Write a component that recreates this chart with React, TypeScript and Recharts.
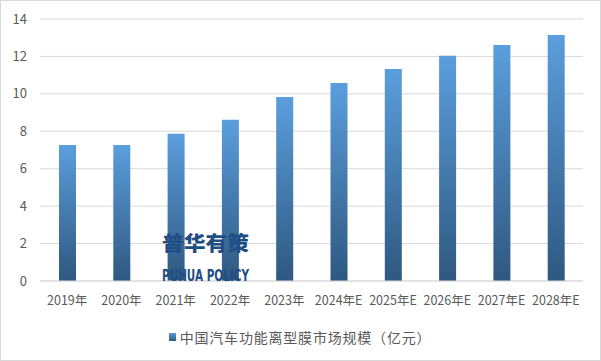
import { BarChart, Bar, XAxis, YAxis, CartesianGrid, Legend } from "recharts";

const years = [
  "2019年",
  "2020年",
  "2021年",
  "2022年",
  "2023年",
  "2024年E",
  "2025年E",
  "2026年E",
  "2027年E",
  "2028年E",
];
const marketSize = [7.27, 7.27, 7.87, 8.62, 9.83, 10.58, 11.33, 12.03, 12.61, 13.15];
const yTicks = [0, 2, 4, 6, 8, 10, 12, 14];
const seriesName = "中国汽车功能离型膜市场规模（亿元）";

const data = years.map((year, i) => ({ year, value: marketSize[i] }));

const FONT = '"Noto Sans CJK SC", "Microsoft YaHei", sans-serif';

function LegendContent() {
  return (
    <div
      style={{
        display: "flex",
        justifyContent: "center",
        alignItems: "center",
        paddingTop: 10,
        paddingLeft: 17,
        fontFamily: FONT,
        fontSize: 14,
        letterSpacing: 0.8,
        color: "#595959",
        ["textSpacingTrim" as never]: "space-all",
      }}
    >
      <span
        style={{
          display: "inline-block",
          width: 7,
          height: 8,
          marginRight: 4,
          background: "linear-gradient(#5B9BD5, #2E5A84)",
        }}
      />
      {seriesName}
    </div>
  );
}

export default function App() {
  return (
    <div style={{ position: "absolute", left: 0, top: 0, width: 601, height: 361 }}>
      <div
        style={{
          position: "absolute",
          left: 0,
          top: 0,
          width: 599,
          height: 359,
          border: "1px solid #D9D9D9",
          background: "#fff",
        }}
      />
      <BarChart
        width={601}
        height={361}
        data={data}
        margin={{ top: 19, right: 18, bottom: 8, left: 0 }}
        style={{ position: "absolute", left: 0, top: 0 }}
      >
        <defs>
          <linearGradient id="barFill" x1="0" y1="0" x2="0" y2="1">
            <stop offset="0%" stopColor="#5B9EDD" />
            <stop offset="100%" stopColor="#2E5880" />
          </linearGradient>
        </defs>
        <CartesianGrid vertical={false} stroke="#D9D9D9" />
        <XAxis
          dataKey="year"
          axisLine={{ stroke: "#D9D9D9" }}
          tickLine={false}
          tickSize={0}
          tickMargin={15}
          height={36}
          interval={0}
          tick={{ fill: "#595959", fontSize: 12.5, fontFamily: FONT }}
        />
        <YAxis
          domain={[0, 14]}
          ticks={yTicks}
          axisLine={false}
          tickLine={false}
          tickSize={0}
          tickMargin={13}
          width={40}
          tick={{ fill: "#595959", fontSize: 13, fontFamily: FONT }}
        />
        <Legend verticalAlign="bottom" height={36} content={<LegendContent />} />
        <Bar
          dataKey="value"
          name={seriesName}
          fill="url(#barFill)"
          barSize={17}
          isAnimationActive={false}
        />
      </BarChart>
      <svg
        width={601}
        height={361}
        style={{ position: "absolute", left: 0, top: 0, pointerEvents: "none" }}
      >
        <text
          x={162}
          y={251}
          textLength={87}
          lengthAdjust="spacingAndGlyphs"
          fontFamily={FONT}
          fontWeight={900}
          fontSize={20}
          fill="#1F4E85"
        >
          普华有策
        </text>
        <text
          x={162}
          y={281}
          textLength={87}
          lengthAdjust="spacingAndGlyphs"
          fontFamily='"Liberation Sans Narrow", "DejaVu Sans Condensed", sans-serif'
          fontWeight={700}
          fontSize={15}
          fill="#1F4E85"
        >
          PUHUA POLICY
        </text>
      </svg>
    </div>
  );
}
